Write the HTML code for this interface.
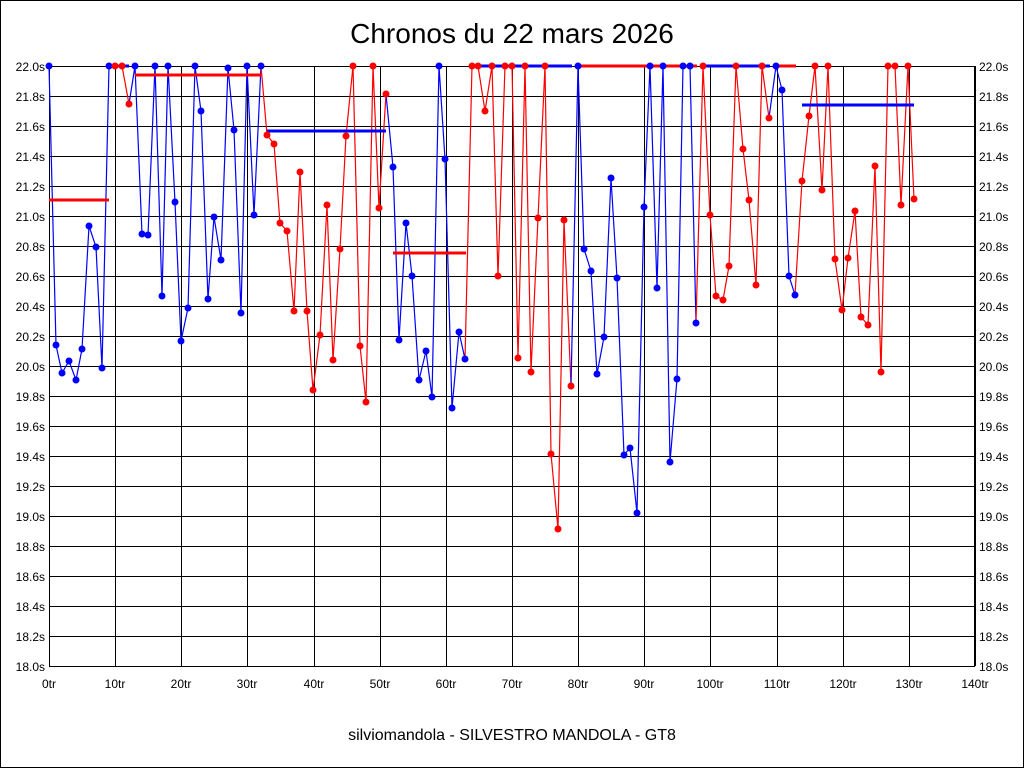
<!DOCTYPE html>
<html><head><meta charset="utf-8"><style>
html,body{margin:0;padding:0;background:#fff}
svg{display:block}
text{font-family:"Liberation Sans",sans-serif}
</style></head><body>
<svg id="s" width="1024" height="768" xmlns="http://www.w3.org/2000/svg">
<rect x="0.5" y="0.5" width="1023" height="767" fill="#fff" stroke="#000"/>
<text x="512" y="43" font-size="28" text-anchor="middle">Chronos du 22 mars 2026</text>
<text x="512" y="740" font-size="16" text-anchor="middle">silviomandola - SILVESTRO MANDOLA - GT8</text>
<g id="grid" stroke="#000" stroke-width="1"></g>
<g font-size="12" text-anchor="end">
<text x="45" y="71">22.0s</text><text x="45" y="101">21.8s</text><text x="45" y="131">21.6s</text><text x="45" y="161">21.4s</text><text x="45" y="191">21.2s</text><text x="45" y="221">21.0s</text><text x="45" y="251">20.8s</text><text x="45" y="281">20.6s</text><text x="45" y="311">20.4s</text><text x="45" y="341">20.2s</text><text x="45" y="371">20.0s</text><text x="45" y="401">19.8s</text><text x="45" y="431">19.6s</text><text x="45" y="461">19.4s</text><text x="45" y="491">19.2s</text><text x="45" y="521">19.0s</text><text x="45" y="551">18.8s</text><text x="45" y="581">18.6s</text><text x="45" y="611">18.4s</text><text x="45" y="641">18.2s</text><text x="45" y="671">18.0s</text>
</g>
<g font-size="12" text-anchor="start">
<text x="979" y="71">22.0s</text><text x="979" y="101">21.8s</text><text x="979" y="131">21.6s</text><text x="979" y="161">21.4s</text><text x="979" y="191">21.2s</text><text x="979" y="221">21.0s</text><text x="979" y="251">20.8s</text><text x="979" y="281">20.6s</text><text x="979" y="311">20.4s</text><text x="979" y="341">20.2s</text><text x="979" y="371">20.0s</text><text x="979" y="401">19.8s</text><text x="979" y="431">19.6s</text><text x="979" y="461">19.4s</text><text x="979" y="491">19.2s</text><text x="979" y="521">19.0s</text><text x="979" y="551">18.8s</text><text x="979" y="581">18.6s</text><text x="979" y="611">18.4s</text><text x="979" y="641">18.2s</text><text x="979" y="671">18.0s</text>
</g>
<g font-size="12" text-anchor="middle">
<text x="49" y="688">0tr</text><text x="115" y="688">10tr</text><text x="181" y="688">20tr</text><text x="247" y="688">30tr</text><text x="314" y="688">40tr</text><text x="380" y="688">50tr</text><text x="446" y="688">60tr</text><text x="512" y="688">70tr</text><text x="578" y="688">80tr</text><text x="644" y="688">90tr</text><text x="710" y="688">100tr</text><text x="777" y="688">110tr</text><text x="843" y="688">120tr</text><text x="909" y="688">130tr</text><text x="975" y="688">140tr</text>
</g>
<g id="data"></g>
</svg>
<script>
var NS="http://www.w3.org/2000/svg";
var g=document.getElementById('grid');
function el(p,t,a){var e=document.createElementNS(NS,t);for(var k in a)e.setAttribute(k,a[k]);p.appendChild(e);return e;}
for(var i=0;i<=20;i++){var y=66.5+i*30;el(g,'line',{x1:49,x2:975,y1:y,y2:y});}
for(var j=0;j<=14;j++){var x=Math.round(49+j*926/14)+0.5;el(g,'line',{x1:x,x2:x,y1:66,y2:666});}
el(g,'rect',{x:49.5,y:66.5,width:925,height:600,fill:'none'});
var d=document.getElementById('data');
var B='#0000ff',R='#ff0000';
var stints=[
[B,[[49,66],[56,345],[62,373],[69,361],[76,380],[82,349],[89,226],[96,247],[102,368],[109,66]]],
[R,[[115,66],[122,66],[129,104]]],
[B,[[135,66],[142,234],[148,235],[155,66],[162,296],[168,66],[175,202],[181,341],[188,308],[195,66],[201,111],[208,299],[214,217],[221,260],[228,68],[234,130],[241,313],[247,66],[254,215],[261,66]]],
[R,[[267,135],[274,144],[280,223],[287,231],[294,311],[300,172],[307,311],[313,390],[320,335],[327,205],[333,360],[340,249],[346,136],[353,66],[360,346],[366,402],[373,66],[379,208],[386,94]]],
[B,[[393,167],[399,340],[406,223],[412,276],[419,380],[426,351],[432,397],[439,66],[445,159],[452,408],[459,332],[465,359]]],
[R,[[472,66],[478,66],[485,111],[492,66],[498,276],[505,66],[512,66],[518,358],[525,66],[531,372],[538,218],[545,66],[551,454],[558,529],[564,220],[571,386]]],
[B,[[578,66],[584,249],[591,271],[597,374],[604,337],[611,178],[617,278],[624,455],[630,448],[637,513],[644,207],[650,66],[657,288],[663,66],[670,462],[677,379],[683,66],[690,66],[696,323]]],
[R,[[703,66],[710,215],[716,296],[723,300],[729,266],[736,66],[743,149],[749,200],[756,285],[762,66],[769,118]]],
[B,[[776,66],[782,90],[789,276],[795,295]]],
[R,[[802,181],[809,116],[815,66],[822,190],[828,66],[835,259],[842,310],[848,258],[855,211],[861,317],[868,325],[875,166],[881,372],[888,66],[895,66],[901,205],[908,66],[914,199]]]
];
var avgs=[[R,49,109,200],[B,116,129,66],[R,135,261,75],[B,267,386,131],[R,393,466,253],[B,478,572,66],[R,578,697,66],[B,703,770,66],[R,777,796,66],[B,802,914,105]];
var prev=null;
stints.forEach(function(s){var pts=s[1].slice();if(prev)pts.unshift(prev);
el(d,'polyline',{points:pts.map(function(p){return p.join(',')}).join(' '),fill:'none',stroke:s[0],'stroke-width':1.2});
prev=s[1][s[1].length-1];});
avgs.forEach(function(a){el(d,'line',{x1:a[1],x2:a[2],y1:a[3],y2:a[3],stroke:a[0],'stroke-width':3});});
stints.forEach(function(s){s[1].forEach(function(p){el(d,'circle',{cx:p[0],cy:p[1],r:3.5,fill:s[0]});});});
</script>
</body></html>
